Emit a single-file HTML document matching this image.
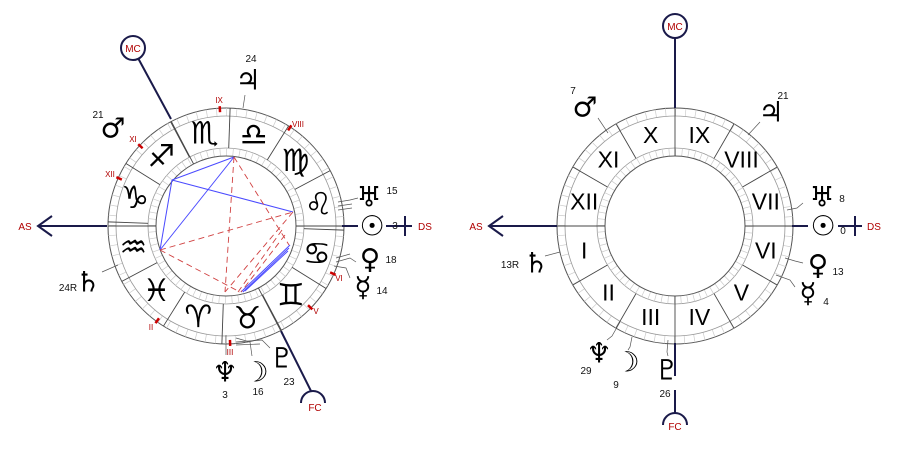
<!DOCTYPE html>
<html><head><meta charset="utf-8"><style>
html,body{margin:0;padding:0;background:#fff;}
svg{display:block;}
.g{font-family:"DejaVu Sans",sans-serif;}
.n{font-family:"Liberation Sans",sans-serif;font-size:10px;fill:#111;}
.r{font-family:"Liberation Sans",sans-serif;fill:#b00000;}
</style></head><body>
<svg width="900" height="450" viewBox="0 0 900 450" xmlns="http://www.w3.org/2000/svg">
<rect width="900" height="450" fill="#fff"/>

<!-- ========== LEFT CHART ========== -->
<g transform="translate(226,226)">
  <circle r="118" fill="none" stroke="#555" stroke-width="1"/>
  <circle r="114" fill="none" stroke="#ccc" stroke-width="8" stroke-dasharray="0.7 9.25"/>
  <circle r="110" fill="none" stroke="#999" stroke-width="0.8"/>
  <circle r="78" fill="none" stroke="#999" stroke-width="0.8"/>
  <circle r="74" fill="none" stroke="#ccc" stroke-width="8" stroke-dasharray="0.7 5.76"/>
  <circle r="70" fill="#fff" stroke="#555" stroke-width="1"/>
  <g stroke="#444" stroke-width="0.9">
    <line x1="78" x2="118" transform="rotate(-178)"/>
    <line x1="78" x2="118" transform="rotate(-148)"/>
    <line x1="78" x2="118" transform="rotate(-118)"/>
    <line x1="78" x2="118" transform="rotate(-88)"/>
    <line x1="78" x2="118" transform="rotate(-58)"/>
    <line x1="78" x2="118" transform="rotate(-28)"/>
    <line x1="78" x2="118" transform="rotate(2)"/>
    <line x1="78" x2="118" transform="rotate(32)"/>
    <line x1="78" x2="118" transform="rotate(62)"/>
    <line x1="78" x2="118" transform="rotate(92)"/>
    <line x1="78" x2="118" transform="rotate(122)"/>
    <line x1="78" x2="118" transform="rotate(152)"/>
    <line x1="70" x2="118" transform="rotate(-117.6)"/>
    <line x1="70" x2="118" transform="rotate(62.4)"/>
    <line x1="70" x2="118" transform="rotate(180)"/>
    <line x1="70" x2="118" transform="rotate(0)"/>
  </g>
  <g class="g" font-size="31" text-anchor="middle" dominant-baseline="central" fill="#000">
    <text transform="rotate(-163) translate(95,0) rotate(163)">♑&#xFE0E;</text>
    <text transform="rotate(-133) translate(95,0) rotate(133)">♐&#xFE0E;</text>
    <text transform="rotate(-103) translate(95,0) rotate(103)">♏&#xFE0E;</text>
    <text transform="rotate(-73) translate(95,0) rotate(73)">♎&#xFE0E;</text>
    <text transform="rotate(-43) translate(95,0) rotate(43)">♍&#xFE0E;</text>
    <text transform="rotate(-13) translate(95,0) rotate(13)">♌&#xFE0E;</text>
    <text transform="rotate(17) translate(95,0) rotate(-17)">♋&#xFE0E;</text>
    <text transform="rotate(47) translate(95,0) rotate(-47)">♊&#xFE0E;</text>
    <text transform="rotate(77) translate(95,0) rotate(-77)">♉&#xFE0E;</text>
    <text transform="rotate(107) translate(95,0) rotate(-107)">♈&#xFE0E;</text>
    <text transform="rotate(137) translate(95,0) rotate(-137)">♓&#xFE0E;</text>
    <text transform="rotate(167) translate(95,0) rotate(-167)">♒&#xFE0E;</text>
  </g>
  <g stroke="#c00" stroke-width="2.5">
    <line x1="114" x2="120" transform="rotate(-93)"/>
    <line x1="114" x2="120" transform="rotate(-57)"/>
    <line x1="114" x2="120" transform="rotate(-137)"/>
    <line x1="114" x2="120" transform="rotate(-156)"/>
    <line x1="114" x2="120" transform="rotate(24)"/>
    <line x1="114" x2="120" transform="rotate(44)"/>
    <line x1="114" x2="120" transform="rotate(126)"/>
    <line x1="114" x2="120" transform="rotate(88)"/>
  </g>
</g>
<g class="r" font-size="8" text-anchor="middle">
  <text x="219" y="103">IX</text><text x="298" y="127">VIII</text>
  <text x="133" y="142">XI</text><text x="110" y="177">XII</text>
  <text x="339" y="281">VI</text><text x="316" y="314">V</text>
  <text x="151" y="330">II</text><text x="230" y="355">III</text>
</g>
<!-- aspects -->
<g stroke="#4a4aff" stroke-width="1" fill="none">
  <line x1="172" y1="180" x2="234" y2="157"/>
  <line x1="172" y1="180" x2="293" y2="212"/>
  <line x1="234" y1="157" x2="160" y2="250"/>
  <line x1="172" y1="180" x2="160" y2="250"/>
  <line x1="290" y1="245" x2="241" y2="292"/>
  <line x1="289" y1="248" x2="243" y2="292"/>
  <line x1="288" y1="251" x2="245" y2="291"/>
</g>
<g stroke="#d04040" stroke-width="0.9" fill="none" stroke-dasharray="6 4">
  <line x1="234" y1="157" x2="225" y2="292"/>
  <line x1="234" y1="157" x2="289" y2="245"/>
  <line x1="160" y1="250" x2="293" y2="212"/>
  <line x1="160" y1="250" x2="240" y2="292"/>
  <line x1="293" y1="212" x2="225" y2="292"/>
  <line x1="285" y1="235" x2="241" y2="292"/>
  <line x1="282" y1="230" x2="238" y2="292"/>
</g>
<!-- axes left -->
<g stroke="#1a1a4a" stroke-width="2" fill="none">
  <line x1="38" y1="226" x2="107" y2="226"/>
  <polyline points="52,216 38,226 52,236"/>
  <line x1="342" y1="226" x2="358" y2="226"/>
  <line x1="386" y1="226" x2="412" y2="226"/>
  <line x1="405" y1="216" x2="405" y2="236"/>
  <line x1="171" y1="119" x2="138" y2="58"/>
  <line x1="281" y1="331" x2="311" y2="391"/>
</g>
<circle cx="133" cy="48" r="12" fill="#fff" stroke="#1a1a4a" stroke-width="2"/>
<path d="M301,403 A12,12 0 0 1 325,403" fill="none" stroke="#1a1a4a" stroke-width="2"/>
<g class="r" font-size="10" text-anchor="middle">
  <text x="133" y="52">MC</text><text x="315" y="411">FC</text>
  <text x="25" y="230">AS</text><text x="425" y="230">DS</text>
</g>
<!-- planet pointers left -->
<g stroke="#555" stroke-width="0.7" fill="none">
  <line x1="243" y1="108" x2="245" y2="95"/>
  <polyline points="338,202 350,200 358,198"/>
  <polyline points="338,206 352,204"/><polyline points="338,210 352,208"/>
  <polyline points="336,262 350,258 356,262"/><polyline points="336,258 350,254"/>
  <polyline points="334,266 346,268 350,278"/>
  <line x1="102" y1="272" x2="118" y2="265"/>
  <polyline points="226,335 226,355"/>
  <polyline points="236,338 250,342 252,356"/>
  <polyline points="236,342 262,340 270,348"/>
  <polyline points="236,345 260,344"/>
</g>
<g class="g" font-size="28" text-anchor="middle" dominant-baseline="central" fill="#000">
  <text x="248" y="80">♃</text>
  <text x="113" y="128">♂</text>
  <text x="369" y="197">♅</text>
  <text x="372" y="226">☉</text>
  <text x="370" y="259">♀</text>
  <text x="363" y="287">☿</text>
  <text x="88" y="282">♄</text>
  <text x="225" y="372">♆</text>
  <text x="256" y="372">☽</text>
  <text x="282" y="358">♇</text>
</g>
<g class="n" text-anchor="middle">
  <text x="251" y="62">24</text><text x="98" y="118">21</text>
  <text x="392" y="194">15</text><text x="395" y="229">3</text>
  <text x="391" y="263">18</text><text x="382" y="294">14</text>
  <text x="68" y="291">24R</text><text x="225" y="398">3</text>
  <text x="258" y="395">16</text><text x="289" y="385">23</text>
</g>

<!-- ========== RIGHT CHART ========== -->
<g transform="translate(675,226)">
  <circle r="118" fill="none" stroke="#555" stroke-width="1"/>
  <circle r="114" fill="none" stroke="#ccc" stroke-width="8" stroke-dasharray="0.7 9.25"/>
  <circle r="110" fill="none" stroke="#999" stroke-width="0.8"/>
  <circle r="78" fill="none" stroke="#999" stroke-width="0.8"/>
  <circle r="74" fill="none" stroke="#ccc" stroke-width="8" stroke-dasharray="0.7 5.76"/>
  <circle r="70" fill="#fff" stroke="#555" stroke-width="1"/>
  <g stroke="#444" stroke-width="0.9">
    <line x1="70" x2="118" transform="rotate(0)"/>
    <line x1="78" x2="118" transform="rotate(-30)"/>
    <line x1="78" x2="118" transform="rotate(-60)"/>
    <line x1="70" x2="118" transform="rotate(-90)"/>
    <line x1="78" x2="118" transform="rotate(-120)"/>
    <line x1="78" x2="118" transform="rotate(-150)"/>
    <line x1="70" x2="118" transform="rotate(180)"/>
    <line x1="78" x2="118" transform="rotate(150)"/>
    <line x1="78" x2="118" transform="rotate(120)"/>
    <line x1="70" x2="118" transform="rotate(90)"/>
    <line x1="78" x2="118" transform="rotate(60)"/>
    <line x1="78" x2="118" transform="rotate(30)"/>
  </g>
  <g font-family="Liberation Sans, sans-serif" font-size="23" text-anchor="middle" dominant-baseline="central" fill="#000">
    <text transform="rotate(-105) translate(94,0) rotate(105)">X</text>
    <text transform="rotate(-135) translate(94,0) rotate(135)">XI</text>
    <text transform="rotate(-165) translate(94,0) rotate(165)">XII</text>
    <text transform="rotate(165) translate(94,0) rotate(-165)">I</text>
    <text transform="rotate(135) translate(94,0) rotate(-135)">II</text>
    <text transform="rotate(105) translate(94,0) rotate(-105)">III</text>
    <text transform="rotate(75) translate(94,0) rotate(-75)">IV</text>
    <text transform="rotate(45) translate(94,0) rotate(-45)">V</text>
    <text transform="rotate(15) translate(94,0) rotate(-15)">VI</text>
    <text transform="rotate(-15) translate(94,0) rotate(15)">VII</text>
    <text transform="rotate(-45) translate(94,0) rotate(45)">VIII</text>
    <text transform="rotate(-75) translate(94,0) rotate(75)">IX</text>
  </g>
</g>
<g stroke="#1a1a4a" stroke-width="2" fill="none">
  <line x1="675" y1="38" x2="675" y2="108"/>
  <line x1="675" y1="343" x2="675" y2="376"/>
  <line x1="675" y1="390" x2="675" y2="413"/>
  <line x1="489" y1="226" x2="557" y2="226"/>
  <polyline points="503,216 489,226 503,236"/>
  <line x1="792" y1="226" x2="808" y2="226"/>
  <line x1="838" y1="226" x2="862" y2="226"/>
  <line x1="855" y1="216" x2="855" y2="236"/>
</g>
<circle cx="675" cy="26" r="12" fill="#fff" stroke="#1a1a4a" stroke-width="2"/>
<path d="M663,425 A12,12 0 0 1 687,425" fill="none" stroke="#1a1a4a" stroke-width="2"/>
<g class="r" font-size="10" text-anchor="middle">
  <text x="675" y="30">MC</text><text x="675" y="430">FC</text>
  <text x="476" y="230">AS</text><text x="874" y="230">DS</text>
</g>
<g stroke="#555" stroke-width="0.7" fill="none">
  <line x1="608" y1="133" x2="598" y2="118"/>
  <line x1="748" y1="135" x2="760" y2="122"/>
  <polyline points="787,210 797,208 803,203"/>
  <polyline points="785,258 795,261 803,263"/>
  <polyline points="776,275 790,280 795,287"/>
  <line x1="560" y1="252" x2="545" y2="256"/>
  <polyline points="620,322 612,336 607,340"/>
  <polyline points="632,337 630,347 628,350"/>
  <polyline points="668,340 667,352 668,356"/>
</g>
<g class="g" font-size="28" text-anchor="middle" dominant-baseline="central" fill="#000">
  <text x="585" y="107">♂</text>
  <text x="771" y="112">♃</text>
  <text x="822" y="197">♅</text>
  <text x="823" y="226">☉</text>
  <text x="818" y="265">♀</text>
  <text x="808" y="293">☿</text>
  <text x="536" y="263">♄</text>
  <text x="599" y="353">♆</text>
  <text x="627" y="362">☽</text>
  <text x="667" y="370">♇</text>
</g>
<g class="n" text-anchor="middle">
  <text x="573" y="94">7</text><text x="783" y="99">21</text>
  <text x="842" y="202">8</text><text x="843" y="234">0</text>
  <text x="838" y="275">13</text><text x="826" y="305">4</text>
  <text x="510" y="268">13R</text><text x="586" y="374">29</text>
  <text x="616" y="388">9</text><text x="665" y="397">26</text>
</g>
</svg>
</body></html>
